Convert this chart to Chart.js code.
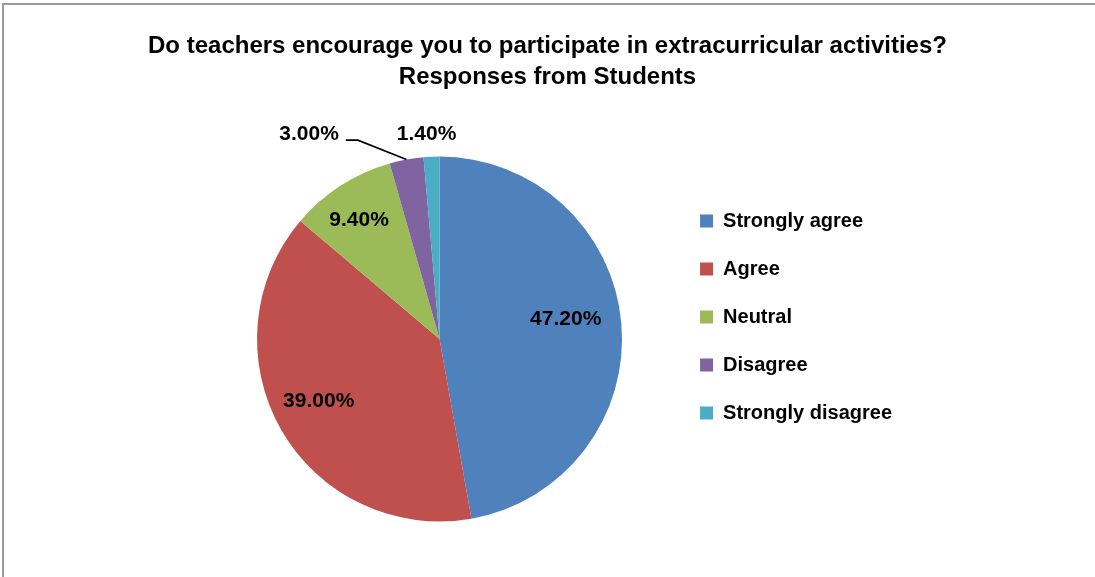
<!DOCTYPE html>
<html>
<head>
<meta charset="utf-8">
<script src="https://cdn.jsdelivr.net/npm/chart.js@4.4.1/dist/chart.umd.min.js"></script>
<style>
  html, body { margin: 0; padding: 0; background: #ffffff; }
  #wrap { position: relative; width: 1095px; height: 577px; overflow: hidden; }
  #frame { position: absolute; left: 2px; top: 3px; width: 1200px; height: 700px;
           border-top: 2px solid #9a9a9a; border-left: 2px solid #9a9a9a; box-sizing: border-box; }
  canvas { position: absolute; left: 0; top: 0; }
</style>
</head>
<body>
<div id="wrap">
  <div id="frame"></div>
  <canvas id="c" width="1095" height="577"></canvas>
</div>
<script>
const titleLines = ['Do teachers encourage you to participate in extracurricular activities?', 'Responses from Students'];
const categories = ['Strongly agree', 'Agree', 'Neutral', 'Disagree', 'Strongly disagree'];
const values = [47.2, 39.0, 9.4, 3.0, 1.4];
const colors = ['#4F81BD', '#C0504D', '#9BBB59', '#8064A2', '#4BACC6'];

// label placement relative to each slice (radius fraction, angle nudge in degrees, leader line)
const labelPlacement = [
  { r: 0.70, da: -4 },
  { r: 0.745, da: 2.6 },
  { r: 0.785, da: -1.4 },
  { r: 1.0, da: 0, leader: true },
  { r: 1.125, da: -1.1 }
];

const FONT = '"Liberation Sans", Arial, sans-serif';

// empty layout boxes that reserve space beside the plot (like the margins of the original chart)
function makeSpacer(position, size, weight) {
  return {
    position: position, weight: weight, fullSize: false,
    options: {},
    left: 0, top: 0, right: 0, bottom: 0, width: 0, height: 0,
    isHorizontal() { return false; },
    getPadding() { return { top: 0, left: 0, right: 0, bottom: 0 }; },
    update(maxWidth, maxHeight) {
      this.width = size; this.height = maxHeight;
      return { width: size, height: maxHeight };
    },
    draw() {}
  };
}
const spacers = {
  id: 'spacers',
  beforeInit(chart) {
    Chart.layouts.addBox(chart, makeSpacer('left', 207, 5000));
    Chart.layouts.addBox(chart, makeSpacer('right', 193, 5000));
  }
};

const pieLabels = {
  id: 'pieLabels',
  afterDatasetsDraw(chart) {
    const ctx = chart.ctx;
    const meta = chart.getDatasetMeta(0);
    const data = chart.data.datasets[0].data;
    ctx.save();
    ctx.font = 'bold 21px ' + FONT;
    ctx.fillStyle = '#000000';
    meta.data.forEach((arc, i) => {
      const p = arc.getProps(['x', 'y', 'startAngle', 'endAngle', 'outerRadius'], true);
      const mid = (p.startAngle + p.endAngle) / 2;
      const txt = data[i].toFixed(2) + '%';
      const pl = labelPlacement[i];
      if (pl.leader) {
        const sx = p.x + p.outerRadius * Math.cos(mid);
        const sy = p.y + p.outerRadius * Math.sin(mid);
        const ea = mid - 11.9 * Math.PI / 180;
        const ex = p.x + p.outerRadius * 1.178 * Math.cos(ea);
        const ey = p.y + p.outerRadius * 1.178 * Math.sin(ea);
        const hx = ex - 12;
        ctx.strokeStyle = '#000000';
        ctx.lineWidth = 1.6;
        ctx.beginPath();
        ctx.moveTo(sx, sy);
        ctx.lineTo(ex, ey);
        ctx.lineTo(hx, ey);
        ctx.stroke();
        ctx.textAlign = 'right';
        ctx.textBaseline = 'middle';
        ctx.fillText(txt, hx - 7, ey - 6);
      } else {
        const a = mid + pl.da * Math.PI / 180;
        const lx = p.x + p.outerRadius * pl.r * Math.cos(a);
        const ly = p.y + p.outerRadius * pl.r * Math.sin(a);
        ctx.textAlign = 'center';
        ctx.textBaseline = 'middle';
        ctx.fillText(txt, lx, ly);
      }
    });
    ctx.restore();
  }
};

new Chart(document.getElementById('c'), {
  type: 'pie',
  data: {
    labels: categories,
    datasets: [{
      data: values,
      backgroundColor: colors,
      borderWidth: 0,
      hoverOffset: 0
    }]
  },
  options: {
    responsive: false,
    animation: false,
    events: [],
    layout: { padding: { left: 0, right: 0, top: 0, bottom: 55.5 } },
    plugins: {
      title: {
        display: true,
        text: titleLines,
        color: '#000000',
        font: { family: FONT, size: 24, weight: 'bold', lineHeight: 1.3 },
        padding: { top: 30.5, bottom: 63.6 }
      },
      legend: {
        display: true,
        position: 'right',
        align: 'start',
        fullSize: false,
        maxWidth: 260,
        title: { display: true, text: '', font: { size: 10, lineHeight: 1.25 }, padding: { top: 7, bottom: 7 } },
        labels: {
          color: '#000000',
          font: { family: FONT, size: 20, weight: 'bold', lineHeight: 1.2 },
          boxWidth: 13,
          boxHeight: 13,
          padding: 28
        }
      },
      tooltip: { enabled: false }
    }
  },
  plugins: [spacers, pieLabels]
});
</script>
</body>
</html>
